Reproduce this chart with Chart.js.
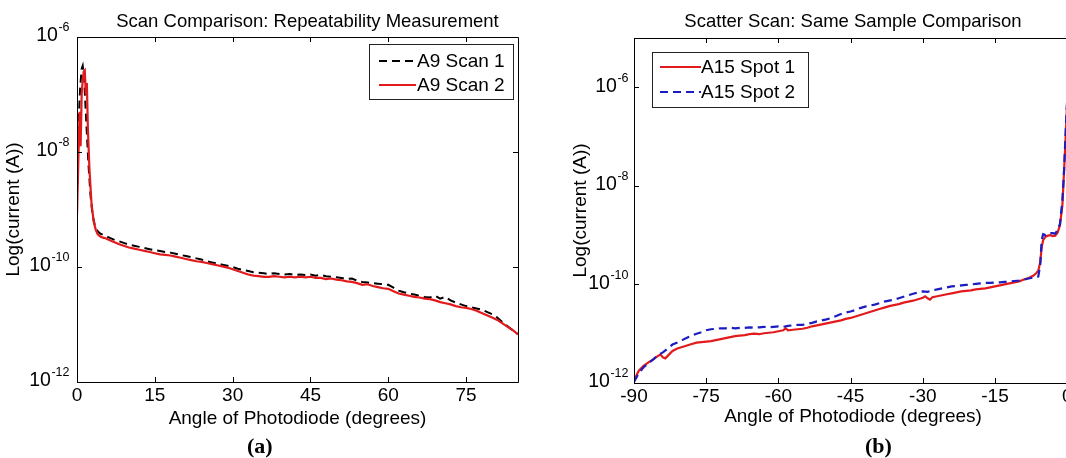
<!DOCTYPE html>
<html>
<head>
<meta charset="utf-8">
<script src="https://cdn.jsdelivr.net/npm/chart.js@4.4.1/dist/chart.umd.min.js"></script>
<style>
  html, body { margin: 0; padding: 0; background: #fff; overflow: hidden; width: 1066px; height: 458px; }
  #wrapA { position: absolute; left: 0; top: 0; width: 540px; height: 458px; }
  #wrapB { position: absolute; left: 540px; top: 0; width: 560px; height: 458px; }
  .cap { position: absolute; top: 433px; line-height: 24px; font: bold 22px "Liberation Serif", "Times New Roman", serif; color: #000; }
</style>
</head>
<body>
<div id="wrapA"><canvas id="chartA" width="540" height="458"></canvas></div>
<div id="wrapB"><canvas id="chartB" width="560" height="458"></canvas></div>
<div class="cap" style="left:247px">(a)</div>
<div class="cap" style="left:865px">(b)</div>

<script>
// ---------- Panel (a): repeatability scans, angle 0..85 deg ----------
const scanAngle1 = [0, 0.3, 0.6, 0.9, 1.1, 1.4, 1.8, 2.2, 2.6, 3.0, 3.5, 4.0, 4.5, 5, 6, 7, 8, 9, 10,
  11, 12, 13, 14, 15, 16, 17, 18, 19, 20, 21, 22, 23, 24, 25, 26, 27, 28, 29, 30,
  31, 32, 33, 34, 35, 36, 37, 38, 39, 40, 41, 42, 43, 44, 45, 46, 47, 48, 49, 50,
  51, 52, 53, 54, 55, 56, 57, 58, 59, 60, 61, 62, 63, 64, 65, 66, 67, 68, 69, 70,
  71, 72, 73, 74, 75, 76, 77, 78, 79, 80, 81, 82, 83, 84, 85];
// log10 of current (A)
const scan1Log = [-8.6, -7.5, -6.9, -6.55, -6.5, -6.75, -7.5, -8.2, -8.75, -9.1, -9.3, -9.38, -9.42, -9.44, -9.48, -9.52, -9.55, -9.58, -9.61,
  -9.63, -9.65, -9.67, -9.69, -9.71, -9.72, -9.74, -9.75, -9.77, -9.79, -9.81, -9.83, -9.85, -9.87, -9.9, -9.92, -9.94, -9.96, -9.98, -10.0,
  -10.03, -10.05, -10.07, -10.09, -10.1, -10.11, -10.12, -10.11, -10.12, -10.13, -10.12, -10.14, -10.13, -10.14, -10.13, -10.15, -10.14, -10.16, -10.17, -10.18,
  -10.19, -10.21, -10.2, -10.24, -10.26, -10.27, -10.28, -10.29, -10.3, -10.31, -10.36, -10.41, -10.44, -10.46, -10.48, -10.5, -10.52, -10.53, -10.5, -10.55,
  -10.52, -10.58, -10.62, -10.65, -10.68, -10.7, -10.72, -10.74, -10.78, -10.82, -10.88, -10.96, -11.03, -11.1, -11.17];

const scanAngle2 = [0, 0.3, 0.5, 0.7, 0.9, 1.1, 1.3, 1.5, 1.7, 1.9, 2.1, 2.4, 2.8, 3.2, 3.6, 4.0, 4.5, 5, 5.5, 6, 7, 8, 9, 10,
  11, 12, 13, 14, 15, 16, 17, 18, 19, 20, 21, 22, 23, 24, 25, 26, 27, 28, 29, 30,
  31, 32, 33, 34, 35, 36, 37, 38, 39, 40, 41, 42, 43, 44, 45, 46, 47, 48, 49, 50,
  51, 52, 53, 54, 55, 56, 57, 58, 59, 60, 61, 62, 63, 64, 65, 66, 67, 68, 69, 70,
  71, 72, 73, 74, 75, 76, 77, 78, 79, 80, 81, 82, 83, 84, 85];
const scan2Log = [-9.1, -8.0, -7.3, -7.9, -7.0, -6.75, -6.6, -6.58, -7.0, -6.8, -7.6, -8.3, -8.9, -9.2, -9.35, -9.43, -9.47, -9.49, -9.5, -9.52, -9.56, -9.6, -9.63, -9.66,
  -9.68, -9.7, -9.72, -9.74, -9.76, -9.78, -9.79, -9.8, -9.82, -9.84, -9.86, -9.88, -9.9, -9.91, -9.93, -9.95, -9.97, -9.99, -10.01, -10.04,
  -10.07, -10.1, -10.13, -10.15, -10.16, -10.17, -10.17, -10.16, -10.17, -10.18, -10.17, -10.18, -10.17, -10.18, -10.17, -10.19, -10.19, -10.21, -10.2, -10.22,
  -10.23, -10.25, -10.26, -10.28, -10.31, -10.3, -10.33, -10.35, -10.37, -10.38, -10.42, -10.46, -10.48, -10.5, -10.52, -10.53, -10.55, -10.56, -10.58, -10.61,
  -10.63, -10.65, -10.68, -10.7, -10.71, -10.73, -10.76, -10.8, -10.84, -10.88, -10.92, -10.98, -11.04, -11.1, -11.17];

// ---------- Panel (b): same sample, two spots, angle -90..0 deg ----------
const spotAngle1 = [-90, -89.5, -89, -88, -87, -86, -85, -84.5, -84, -83.5, -83, -82, -81, -80, -79, -78, -77, -76, -75, -74,
  -73, -72, -71, -70, -69, -68, -67, -66, -65, -64, -63, -62, -61, -60, -59, -58.5, -58, -57, -56, -55,
  -54, -53, -52, -51, -50, -49, -48, -47, -46, -45, -44, -43, -42, -41, -40, -39, -38, -37, -36, -35,
  -34, -33, -32, -31, -30, -29.5, -29, -28.5, -28, -27, -26, -25, -24, -23, -22, -21, -20, -19, -18, -17,
  -16, -15, -14, -13, -12, -11, -10, -9, -8, -7, -6.5, -6, -5.6, -5.3, -5, -4.5, -4, -3.5, -3, -2.5,
  -2, -1.5, -1, -0.7, -0.4, -0.1, 0.3];
const spot1Log = [-11.95, -11.85, -11.75, -11.65, -11.58, -11.52, -11.45, -11.42, -11.48, -11.5, -11.45, -11.35, -11.3, -11.27, -11.24, -11.21, -11.18, -11.17, -11.16, -11.15,
  -11.13, -11.11, -11.09, -11.07, -11.05, -11.04, -11.03, -11.01, -11.0, -11.01, -10.99, -10.98, -10.97, -10.95, -10.93, -10.89, -10.93, -10.92, -10.91, -10.9,
  -10.88, -10.85, -10.83, -10.81, -10.79, -10.77, -10.75, -10.73, -10.7, -10.68, -10.65, -10.62, -10.59, -10.56, -10.53, -10.5, -10.47, -10.44, -10.42, -10.4,
  -10.37, -10.35, -10.33, -10.3, -10.27, -10.24, -10.28, -10.31, -10.26, -10.24, -10.22, -10.2, -10.18, -10.16, -10.14, -10.13, -10.12, -10.1, -10.09, -10.08,
  -10.06, -10.04, -10.02, -10.0, -9.98, -9.96, -9.94, -9.9, -9.87, -9.82, -9.78, -9.72, -9.55, -9.25, -9.1, -9.03, -9.01, -9.0, -9.02, -9.01,
  -8.95, -8.8, -8.4, -7.8, -7.2, -6.5, -6.0];

const spotAngle2 = [-90, -89, -88, -87, -86, -85, -84, -83, -82, -81, -80, -79, -78, -77, -76, -75, -74, -73, -72, -71,
  -70, -69, -68, -67, -66, -65, -64, -63, -62, -61, -60, -59, -58, -57, -56, -55, -54, -53, -52, -51,
  -50, -49, -48, -47, -46, -45, -44, -43, -42, -41, -40, -39, -38, -37, -36, -35, -34, -33, -32, -31,
  -30, -29, -28, -27, -26, -25, -24, -23, -22, -21, -20, -19, -18, -17, -16, -15, -14, -13, -12, -11,
  -10, -9, -8, -7, -6.5, -6, -5.6, -5.3, -5, -4.5, -4, -3, -2.5, -2, -1.5, -1, -0.7, -0.4, -0.1, 0.3];
const spot2Log = [-11.98, -11.8, -11.68, -11.6, -11.52, -11.43, -11.38, -11.3, -11.22, -11.18, -11.13, -11.08, -11.04, -11.0, -10.97, -10.93, -10.91, -10.9, -10.89, -10.89,
  -10.88, -10.89, -10.88, -10.88, -10.87, -10.88, -10.87, -10.86, -10.87, -10.86, -10.85, -10.86, -10.84, -10.83, -10.82, -10.82, -10.8, -10.78, -10.75, -10.73,
  -10.71, -10.68, -10.64, -10.6, -10.57, -10.55, -10.52, -10.48, -10.45, -10.43, -10.41, -10.38, -10.35, -10.33, -10.31, -10.28, -10.25, -10.22, -10.19, -10.16,
  -10.14, -10.15, -10.12, -10.1, -10.08, -10.06, -10.04, -10.03, -10.02, -10.01, -10.0, -9.99, -9.98, -9.97, -9.97, -9.96, -9.96, -9.95, -9.94, -9.93,
  -9.92, -9.9, -9.88, -9.86, -9.86, -9.84, -9.6, -9.1, -8.98, -9.0, -8.96, -8.96, -8.97, -8.9, -8.77, -8.3, -7.8, -7.1, -6.4, -5.9];

// Tick positions
const xTicksA = [0, 15, 30, 45, 60, 75];
const xTicksB = [-90, -75, -60, -45, -30, -15, 0];
const yTicksA = [1e-12, 1e-10, 1e-8, 1e-6];
const yTicksB = [1e-12, 1e-10, 1e-8, 1e-6];

const FONT = '"Liberation Sans", Arial, "DejaVu Sans", sans-serif';
function toPoints(xs, logs) {
  return xs.map((x, i) => ({ x: x, y: Math.pow(10, logs[i]) }));
}

// Box around the plot area with inward tick marks on all four sides
const boxFrame = {
  id: 'boxFrame',
  afterDatasetsDraw(chart) {
    const { ctx, chartArea: a, scales } = chart;
    const tl = 5;
    ctx.save();
    ctx.strokeStyle = '#000';
    ctx.lineWidth = 1;
    ctx.beginPath();
    ctx.rect(Math.round(a.left) + 0.5, Math.round(a.top) + 0.5, Math.round(a.right - a.left), Math.round(a.bottom - a.top));
    ctx.stroke();
    ctx.beginPath();
    scales.x.ticks.forEach(t => {
      const px = Math.round(scales.x.getPixelForValue(t.value)) + 0.5;
      ctx.moveTo(px, a.bottom); ctx.lineTo(px, a.bottom - tl);
      ctx.moveTo(px, a.top); ctx.lineTo(px, a.top + tl);
    });
    scales.y.ticks.forEach(t => {
      const py = Math.round(scales.y.getPixelForValue(t.value)) + 0.5;
      ctx.moveTo(a.left, py); ctx.lineTo(a.left + tl, py);
      ctx.moveTo(a.right, py); ctx.lineTo(a.right - tl, py);
    });
    ctx.stroke();
    ctx.restore();
  }
};

// Power-of-ten tick labels on the log axis: "10" with a raised exponent
const powerTicks = {
  id: 'powerTicks',
  afterDraw(chart, args, opts) {
    const { ctx, chartArea: a } = chart;
    const s = chart.scales.y;
    ctx.save();
    ctx.fillStyle = '#000';
    ctx.textAlign = 'left';
    ctx.textBaseline = 'middle';
    s.ticks.forEach(t => {
      const py = s.getPixelForValue(t.value);
      const exp = String(Math.round(Math.log10(t.value)));
      ctx.font = opts.baseSize + 'px ' + FONT;
      const wb = ctx.measureText('10').width;
      ctx.font = opts.expSize + 'px ' + FONT;
      const we = ctx.measureText(exp).width;
      const xb = a.left - opts.gap - we - wb;
      ctx.font = opts.baseSize + 'px ' + FONT;
      ctx.fillText('10', xb, py - 1);
      ctx.font = opts.expSize + 'px ' + FONT;
      ctx.fillText(exp, xb + wb + 0.5, py - 9);
    });
    ctx.restore();
  }
};

// Panel title centred over the plot area
const panelTitle = {
  id: 'panelTitle',
  afterDraw(chart, args, opts) {
    const { ctx, chartArea: a } = chart;
    ctx.save();
    ctx.font = opts.size + 'px ' + FONT;
    ctx.fillStyle = '#000';
    ctx.textAlign = 'center';
    ctx.textBaseline = 'middle';
    ctx.fillText(opts.text, (a.left + a.right) / 2 + (opts.dx || 0), opts.y);
    ctx.restore();
  }
};

// Framed legend inside the plot area, drawn from the datasets' own styles
const boxLegend = {
  id: 'boxLegend',
  afterDraw(chart, args, opts) {
    const { ctx, chartArea: a } = chart;
    const w = opts.width, h = opts.height;
    const x0 = opts.anchor === 'right' ? a.right - opts.offsetX - w : a.left + opts.offsetX;
    const y0 = a.top + opts.offsetY;
    ctx.save();
    ctx.fillStyle = '#fff';
    ctx.fillRect(x0, y0, w, h);
    ctx.strokeStyle = '#222';
    ctx.lineWidth = 1;
    ctx.strokeRect(Math.round(x0) + 0.5, Math.round(y0) + 0.5, w, h);
    ctx.font = opts.size + 'px ' + FONT;
    ctx.textBaseline = 'middle';
    ctx.textAlign = 'left';
    chart.data.datasets.forEach((ds, i) => {
      const cy = y0 + opts.firstRow + i * opts.rowGap;
      ctx.strokeStyle = ds.borderColor;
      ctx.lineWidth = ds.borderWidth;
      ctx.setLineDash(ds.borderDash || []);
      ctx.beginPath();
      ctx.moveTo(x0 + opts.lineStart, cy);
      ctx.lineTo(x0 + opts.lineEnd, cy);
      ctx.stroke();
      ctx.setLineDash([]);
      ctx.fillStyle = '#000';
      ctx.fillText(ds.label, x0 + opts.textStart, cy + 1);
    });
    ctx.restore();
  }
};

function makeOptions(cfg) {
  return {
    responsive: false,
    animation: false,
    events: [],
    layout: { padding: { left: 0, right: cfg.padRight, top: cfg.padTop, bottom: 0 } },
    plugins: {
      legend: { display: false },
      tooltip: { enabled: false },
      title: { display: false },
      panelTitle: cfg.title,
      boxLegend: cfg.legend,
      powerTicks: { baseSize: 19.5, expSize: 12.5, gap: cfg.yTickPad }
    },
    scales: {
      x: {
        type: 'linear',
        min: cfg.xMin, max: cfg.xMax,
        grid: { display: false, drawTicks: false },
        border: { display: false },
        afterBuildTicks: s => { s.ticks = cfg.xTicks.map(v => ({ value: v })); },
        afterFit: s => { s.height = cfg.xHeight; },
        ticks: { color: '#000', padding: 2, font: { family: FONT, size: 19 }, maxRotation: 0, autoSkip: false },
        title: { display: true, text: 'Angle of Photodiode (degrees)', color: '#000',
                 font: { family: FONT, size: 19 }, padding: { top: 0, bottom: cfg.xTitleBottom } }
      },
      y: {
        type: 'logarithmic',
        min: cfg.yMin, max: cfg.yMax,
        grid: { display: false, drawTicks: false },
        border: { display: false },
        afterBuildTicks: s => { s.ticks = cfg.yTicks.map(v => ({ value: v })); },
        afterFit: s => { s.width = cfg.yWidth; },
        ticks: { display: false },
        title: { display: true, text: 'Log(current (A))', color: '#000',
                 font: { family: FONT, size: 19 }, padding: { top: cfg.yTitleTop, bottom: 0 } }
      }
    }
  };
}

// Panel (a)
new Chart(document.getElementById('chartA'), {
  type: 'line',
  data: {
    datasets: [
      { label: 'A9 Scan 1', data: toPoints(scanAngle1, scan1Log), borderColor: '#000000', borderWidth: 2,
        borderDash: [8, 5], pointRadius: 0, tension: 0, fill: false, order: 1 },
      { label: 'A9 Scan 2', data: toPoints(scanAngle2, scan2Log), borderColor: '#e31a1c', borderWidth: 2.2,
        pointRadius: 0, tension: 0, fill: false, order: 0 }
    ]
  },
  options: makeOptions({
    padRight: 22, padTop: 37, xMin: 0, xMax: 85, xTicks: xTicksA, xHeight: 76, xTitleBottom: 28,
    yMin: 1e-12, yMax: 1e-6, yTicks: yTicksA, yWidth: 77, yTickPad: 8, yTitleTop: 2,
    title: { text: 'Scan Comparison: Repeatability Measurement', size: 18.5, y: 22, dx: 10 },
    legend: { anchor: 'right', offsetX: 5, offsetY: 7, width: 144, height: 55, size: 19,
              firstRow: 17, rowGap: 24, lineStart: 10, lineEnd: 47, textStart: 48 }
  }),
  plugins: [boxFrame, powerTicks, panelTitle, boxLegend]
});

// Panel (b)
new Chart(document.getElementById('chartB'), {
  type: 'line',
  data: {
    datasets: [
      { label: 'A15 Spot 1', data: toPoints(spotAngle1, spot1Log), borderColor: '#e31a1c', borderWidth: 2.2,
        pointRadius: 0, tension: 0, fill: false, order: 1 },
      { label: 'A15 Spot 2', data: toPoints(spotAngle2, spot2Log), borderColor: '#1c1cc0', borderWidth: 2.2,
        borderDash: [8, 5], pointRadius: 0, tension: 0, fill: false, order: 0 }
    ]
  },
  options: makeOptions({
    padRight: 28, padTop: 38, xMin: -90, xMax: 1, xTicks: xTicksB, xHeight: 75, xTitleBottom: 30,
    yMin: 1e-12, yMax: 1e-5, yTicks: yTicksB, yWidth: 94, yTickPad: 6, yTitleTop: 29,
    title: { text: 'Scatter Scan: Same Sample Comparison', size: 18.5, y: 22, dx: 0 },
    legend: { anchor: 'left', offsetX: 18, offsetY: 14, width: 156, height: 55, size: 19,
              firstRow: 15, rowGap: 25, lineStart: 8, lineEnd: 49, textStart: 49 }
  }),
  plugins: [boxFrame, powerTicks, panelTitle, boxLegend]
});
</script>
</body>
</html>
